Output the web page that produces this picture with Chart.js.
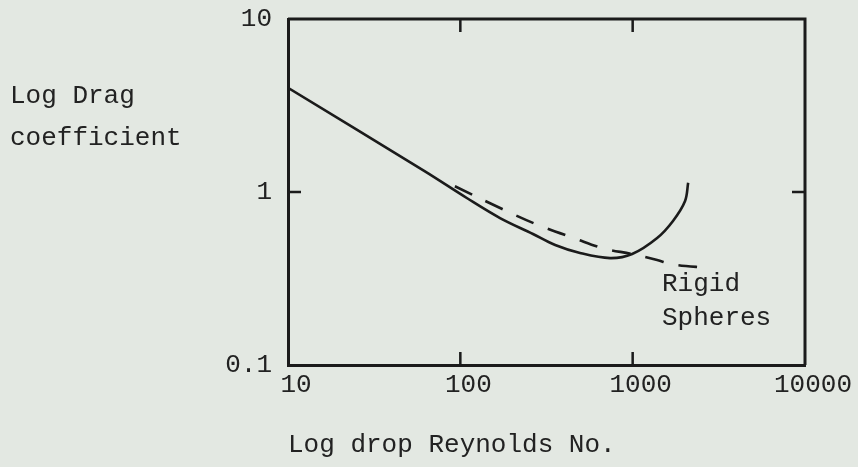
<!DOCTYPE html>
<html>
<head>
<meta charset="utf-8">
<script src="https://cdn.jsdelivr.net/npm/chart.js@4/dist/chart.umd.min.js"></script>
<style>
  html, body { margin: 0; padding: 0; background: #e3e8e2; }
  #wrap { width: 858px; height: 467px; }
</style>
</head>
<body>
<div id="wrap"><canvas id="chart-drag" width="858" height="467"></canvas></div>
<script>
// drop curve (solid line)
const dropRe = [10, 62, 109, 170, 264, 355, 495, 739, 993, 1387, 1714, 2014, 2099];
const dropCd = [4.0, 1.32, 0.923, 0.707, 0.572, 0.494, 0.444, 0.415, 0.438, 0.542, 0.68, 0.887, 1.13];

// rigid spheres (dashed line)
const rigidRe = [93, 175, 283, 464, 682, 993, 1387, 1714, 2742];
const rigidCd = [1.08, 0.797, 0.644, 0.538, 0.471, 0.438, 0.404, 0.381, 0.364];

const xTicks = [10, 100, 1000, 10000];
const xTickLabels = ["10", "100", "1000", "10000"];
const yTicks = [0.1, 1, 10];
const yTickLabels = ["0.1", "1", "10"];

const xTitle = "Log drop Reynolds No.";
const yTitle = ["Log Drag", "coefficient"];
const curveNote = ["Rigid", "Spheres"];
const notePos = { x: 1480, y: 0.295 };

const INK = "#1b1b1b";
const TEXT = "#222222";
const PAPER = "#e3e8e2";
const FONT = "'Liberation Mono', 'Courier New', monospace";

function pts(xs, ys) {
  return xs.map((x, i) => ({ x: x, y: ys[i] }));
}

// paper colour behind everything
const paperPlugin = {
  id: "paper",
  beforeDraw(chart) {
    const ctx = chart.ctx;
    ctx.save();
    ctx.fillStyle = PAPER;
    ctx.fillRect(0, 0, chart.width, chart.height);
    ctx.restore();
  },
};

// top/right frame and the small inward ticks
const framePlugin = {
  id: "frame",
  afterDraw(chart) {
    const { ctx, chartArea: a, scales } = chart;
    const len = 13;
    ctx.save();
    ctx.strokeStyle = INK;
    ctx.lineWidth = 3;
    ctx.beginPath();
    ctx.moveTo(a.left, a.top);
    ctx.lineTo(a.right, a.top);
    ctx.lineTo(a.right, a.bottom);
    ctx.stroke();

    ctx.lineWidth = 2.5;
    ctx.beginPath();
    xTicks.slice(1, -1).forEach((v) => {
      const px = scales.x.getPixelForValue(v);
      ctx.moveTo(px, a.top);
      ctx.lineTo(px, a.top + len);
      ctx.moveTo(px, a.bottom);
      ctx.lineTo(px, a.bottom - len);
    });
    yTicks.slice(1, -1).forEach((v) => {
      const py = scales.y.getPixelForValue(v);
      ctx.moveTo(a.left, py);
      ctx.lineTo(a.left + len, py);
      ctx.moveTo(a.right, py);
      ctx.lineTo(a.right - len, py);
    });
    ctx.stroke();

    // y title, typed horizontally at the left
    ctx.fillStyle = TEXT;
    ctx.font = "26px " + FONT;
    ctx.textAlign = "left";
    ctx.textBaseline = "middle";
    ctx.fillText(yTitle[0], 10, 96);
    ctx.fillText(yTitle[1], 10, 138);

    // label next to the dashed curve
    const nx = scales.x.getPixelForValue(notePos.x);
    const ny = scales.y.getPixelForValue(notePos.y);
    ctx.fillText(curveNote[0], nx, ny);
    ctx.fillText(curveNote[1], nx, ny + 34);
    ctx.restore();
  },
};

const ctx = document.getElementById("chart-drag").getContext("2d");

new Chart(ctx, {
  type: "scatter",
  plugins: [paperPlugin, framePlugin],
  data: {
    datasets: [
      {
        label: "Drops",
        data: pts(dropRe, dropCd),
        showLine: true,
        borderColor: INK,
        borderWidth: 2.6,
        pointRadius: 0,
        tension: 0.35,
        fill: false,
      },
      {
        label: "Rigid Spheres",
        data: pts(rigidRe, rigidCd),
        showLine: true,
        borderColor: INK,
        borderWidth: 2.6,
        borderDash: [19, 15],
        pointRadius: 0,
        tension: 0.35,
        fill: false,
      },
    ],
  },
  options: {
    responsive: false,
    animation: false,
    devicePixelRatio: 1,
    layout: {
      padding: { left: 0, top: 19, right: 53, bottom: 0 },
    },
    plugins: {
      legend: { display: false },
      tooltip: { enabled: false },
    },
    scales: {
      x: {
        type: "logarithmic",
        min: 10,
        max: 10000,
        afterBuildTicks(scale) {
          scale.ticks = xTicks.map((v) => ({ value: v }));
        },
        afterFit(scale) {
          scale.height = 102;
          scale.paddingLeft = 0;
          scale.paddingRight = 0;
        },
        grid: { display: false, drawTicks: false },
        border: { display: true, color: INK, width: 3 },
        ticks: {
          autoSkip: false,
          maxRotation: 0,
          padding: 5,
          labelOffset: 8,
          color: TEXT,
          font: { size: 26, family: FONT },
          callback: (value) => xTickLabels[xTicks.indexOf(value)],
        },
        title: {
          display: true,
          text: xTitle,
          align: "start",
          color: TEXT,
          font: { size: 26, family: FONT },
          padding: { top: 0, bottom: 6 },
        },
      },
      y: {
        type: "logarithmic",
        min: 0.1,
        max: 10,
        afterBuildTicks(scale) {
          scale.ticks = yTicks.map((v) => ({ value: v }));
        },
        afterFit(scale) {
          scale.width = 288;
          scale.paddingTop = 0;
          scale.paddingBottom = 0;
        },
        grid: { display: false, drawTicks: false },
        border: { display: true, color: INK, width: 3 },
        ticks: {
          autoSkip: false,
          padding: 16,
          color: TEXT,
          font: { size: 26, family: FONT },
          callback: (value) => yTickLabels[yTicks.indexOf(value)],
        },
      },
    },
  },
});
</script>
</body>
</html>
